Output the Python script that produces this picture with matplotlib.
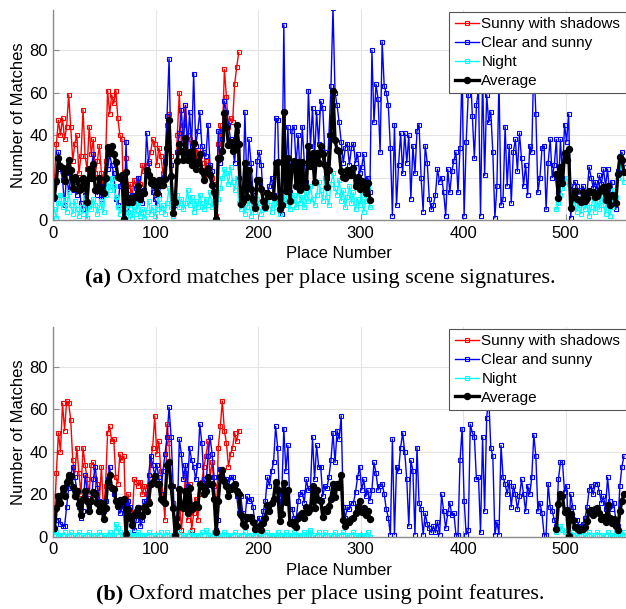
import numpy as np
import matplotlib
matplotlib.use("Agg")
import matplotlib.pyplot as plt

plt.rcParams["font.family"] = ["Liberation Sans", "DejaVu Sans"]

# Place numbers sampled along the route (every second place)
PLACES = np.arange(1, 558, 2)
NIGHT_TAIL_FIRST_PLACE = 491

# ---------------- (a) scene signatures ----------------
SUNNY_SHADOWS_A = [
    18, 36, 47, 40, 48, 38, 44, 59, 44, 28,
    36, 40, 22, 30, 52, 30, 24, 44, 31, 38,
    22, 28, 35, 22, 18, 28, 61, 50, 59, 55,
    61, 48, 40, 38, 1, 29, 14, 17, 12, 19,
    15, 20, 17, 26, 23, 26, 28, 32, 38, 36,
    26, 34, 30, 22, 27, 45, 50, 30, 6, 10,
    40, 60, 35, 45, 54, 40, 38, 32, 36, 28,
    33, 30, 27, 20, 28, 22, 25, 20, 17, 2,
    36, 45, 40, 71, 58, 44, 48, 46, 64, 72,
    79,
]
CLEAR_SUNNY_A = [
    10, 18, 32, 24, 19, 7, 22, 13, 20, 14,
    16, 12, 18, 8, 5, 12, 1, 20, 24, 31,
    14, 12, 18, 10, 16, 20, 24, 31, 26, 22,
    10, 7, 16, 20, 0, 37, 4, 10, 12, 8,
    15, 20, 10, 8, 14, 41, 27, 18, 13, 10,
    7, 12, 16, 20, 28, 49, 76, 26, 2, 7,
    32, 41, 52, 35, 54, 31, 51, 35, 69, 35,
    42, 51, 35, 32, 30, 45, 26, 23, 13, 0,
    42, 27, 38, 56, 51, 45, 38, 34, 27, 42,
    20, 10, 7, 51, 16, 38, 27, 12, 7, 28,
    32, 26, 9, 7, 13, 16, 20, 12, 48, 47,
    7, 3, 92, 20, 44, 13, 42, 44, 26, 40,
    20, 44, 27, 18, 61, 35, 53, 29, 51, 36,
    56, 53, 32, 20, 40, 63, 100, 60, 54, 46,
    37, 27, 34, 36, 26, 34, 36, 27, 31, 22,
    25, 31, 16, 20, 13, 80, 46, 64, 57, 32,
    84, 63, 60, 54, 34, 2, 45, 7, 26, 41,
    22, 41, 27, 40, 10, 35, 22, 42, 45, 20,
    4, 35, 27, 10, 5, 7, 12, 24, 18, 20,
    13, 2, 24, 13, 23, 28, 32, 13, 34, 70,
    2, 37, 59, 72, 49, 29, 54, 62, 2, 68,
    21, 59, 46, 51, 32, 1, 16, 66, 7, 10,
    44, 16, 35, 8, 32, 38, 23, 41, 29, 16,
    26, 12, 35, 32, 75, 50, 13, 20, 34, 35,
    5, 27, 38, 20, 26, 38, 13, 38, 20, 45,
    37, 50, 1, 16, 18, 16, 12, 14, 16, 13,
    13, 25, 20, 15, 18, 14, 21, 17, 24, 16,
    24, 12, 18, 9, 5, 23, 29, 32, 27,
]
NIGHT_A_HEAD = [
    5, 1, 8, 12, 6, 10, 4, 13, 7, 3,
    9, 5, 2, 6, 3, 11, 1, 8, 5, 10,
    7, 3, 6, 9, 4, 12, 18, 14, 20, 16,
    11, 6, 3, 5, 0, 2, 7, 4, 1, 6,
    3, 8, 2, 5, 1, 4, 9, 3, 6, 2,
    5, 10, 4, 7, 3, 8, 15, 6, 2, 9,
    12, 6, 10, 5, 8, 14, 7, 11, 4, 9,
    6, 12, 8, 5, 10, 7, 13, 6, 9, 0,
    10, 15, 20, 24, 22, 17, 25, 18, 14, 20,
    8, 5, 11, 3, 6, 9, 2, 7, 4, 10,
    6, 3, 9, 5, 12, 7, 4, 10, 6, 8,
    3, 11, 10, 7, 14, 5, 9, 12, 6, 15,
    8, 11, 6, 13, 9, 16, 10, 7, 12, 18,
    14, 9, 20, 11, 7, 17, 22, 15, 12, 19,
    9, 14, 6, 11, 16, 8, 13, 5, 10, 7,
    12, 4, 9, 15, 6,
]
NIGHT_A_TAIL = [
    5, 8, 12, 15, 18, 20, 17, 10, 6, 9,
    4, 7, 3, 10, 5, 8, 2, 6, 11, 4,
    9, 5, 12, 7, 3, 8, 2, 6, 14, 11,
    20, 30, 25, 18,
]

# ---------------- (b) point features ----------------
SUNNY_SHADOWS_B = [
    8, 30, 49, 40, 63, 50, 64, 63, 55, 36,
    30, 42, 30, 20, 42, 34, 27, 20, 34, 35,
    27, 25, 17, 33, 12, 24, 49, 52, 45, 46,
    28, 25, 39, 36, 38, 2, 20, 11, 8, 27,
    26, 24, 26, 20, 24, 20, 17, 36, 42, 57,
    39, 45, 31, 20, 8, 53, 44, 24, 16, 2,
    5, 20, 3, 14, 30, 8, 25, 3, 11, 18,
    8, 20, 26, 33, 38, 45, 28, 35, 24, 3,
    42, 52, 64, 50, 44, 33, 39, 42, 49, 45,
    50,
]
CLEAR_SUNNY_B = [
    3, 8, 8, 6, 5, 5, 14, 23, 29, 33,
    28, 22, 14, 9, 12, 29, 22, 14, 17, 27,
    33, 23, 17, 14, 12, 17, 27, 33, 23, 20,
    17, 14, 11, 13, 15, 1, 17, 14, 8, 3,
    8, 14, 5, 8, 17, 16, 29, 38, 34, 29,
    34, 28, 20, 31, 39, 47, 61, 47, 24, 1,
    9, 46, 39, 27, 34, 24, 42, 36, 33, 27,
    34, 53, 44, 27, 24, 38, 47, 39, 28, 3,
    8, 32, 30, 27, 27, 24, 28, 28, 24, 19,
    11, 19, 11, 8, 19, 17, 18, 14, 5, 7,
    9, 6, 12, 17, 28, 24, 31, 35, 52, 42,
    14, 20, 51, 31, 43, 13, 13, 9, 8, 17,
    20, 21, 16, 27, 22, 23, 47, 27, 43, 33,
    33, 19, 24, 23, 28, 36, 49, 35, 50, 46,
    57, 14, 9, 14, 13, 16, 16, 21, 28, 33,
    22, 27, 19, 22, 17, 22, 35, 30, 22, 24,
    25, 20, 13, 9, 1, 46, 1, 33, 31, 42,
    49, 40, 27, 5, 36, 31, 1, 42, 16, 13,
    1, 11, 6, 4, 2, 5, 2, 7, 1, 20,
    12, 4, 11, 16, 10, 11, 1, 1, 36, 51,
    17, 1, 3, 53, 49, 47, 27, 28, 2, 47,
    12, 56, 66, 42, 38, 1, 7, 1, 43, 28,
    25, 20, 26, 14, 24, 20, 13, 19, 27, 20,
    12, 24, 20, 28, 48, 38, 12, 16, 11, 1,
    1, 25, 14, 12, 8, 5, 27, 35, 35, 21,
    24, 1, 20, 14, 8, 8, 5, 5, 6, 9,
    14, 22, 24, 20, 25, 25, 21, 16, 19, 13,
    28, 17, 13, 16, 8, 5, 24, 33, 38,
]
NIGHT_B_HEAD = [
    1, 2, 0, 1, 1, 2, 0, 1, 2, 1,
    0, 1, 2, 1, 0, 1, 1, 2, 0, 1,
    1, 0, 2, 1, 1, 0, 1, 2, 1, 1,
    6, 4, 2, 1, 0, 1, 2, 1, 0, 1,
    1, 2, 0, 1, 1, 0, 2, 1, 1, 0,
    1, 1, 2, 0, 1, 2, 1, 0, 1, 0,
    1, 2, 1, 0, 1, 1, 2, 0, 1, 1,
    0, 1, 2, 1, 3, 1, 0, 1, 2, 0,
    1, 0, 1, 2, 1, 1, 0, 1, 2, 1,
    0, 1, 1, 2, 0, 1, 1, 0, 2, 1,
    1, 0, 1, 1, 2, 0, 1, 1, 0, 2,
    1, 1, 0, 2, 1, 0, 1, 2, 1, 1,
    0, 1, 2, 1, 1, 3, 1, 0, 1, 2,
    1, 0, 2, 1, 1, 0, 1, 2, 0, 1,
    1, 2, 1, 0, 1, 1, 2, 1, 0, 1,
    1, 0, 1, 2, 0,
]
NIGHT_B_TAIL = [
    2, 4, 5, 3, 2, 1, 0, 1, 2, 1,
    0, 1, 2, 1, 0, 1, 2, 1, 0, 1,
    2, 1, 1, 0, 1, 2, 1, 0, 1, 2,
    1, 0, 1, 2,
]

LEGEND_LABELS = ["Sunny with shadows", "Clear and sunny", "Night", "Average"]
X_TICKS = [0, 100, 200, 300, 400, 500]
Y_TICKS = [0, 20, 40, 60, 80]

W, H = 626, 609


def padded(values, start_place):
    """Place a partial series on the full place grid, NaN elsewhere."""
    out = np.full(PLACES.shape, np.nan)
    i0 = int(np.searchsorted(PLACES, start_place))
    out[i0:i0 + len(values)] = values
    return out


def draw_panel(ax, sunny_shadows, clear_sunny, night_head, night_tail):
    red = padded(sunny_shadows, PLACES[0])
    blue = padded(clear_sunny, PLACES[0])
    night = padded(night_head, PLACES[0])
    tail = padded(night_tail, NIGHT_TAIL_FIRST_PLACE)
    night = np.where(np.isnan(night), tail, night)

    # average over the conditions recorded at each place
    stack = np.vstack([red, blue, night])
    avg = np.nanmean(stack, axis=0)
    avg[np.isnan(night)] = np.nan

    thin = dict(lw=1.0, marker="s", ms=3.4, mew=0.8, mfc="none")
    ax.plot(PLACES, red, color="#ff0000", label=LEGEND_LABELS[0], **thin)
    ax.plot(PLACES, blue, color="#0000ff", label=LEGEND_LABELS[1], **thin)
    ax.plot(PLACES, night, color="#00ffff", label=LEGEND_LABELS[2], **thin)
    ax.plot(PLACES, avg, color="black", lw=2.4, marker="o", ms=4.3,
            label=LEGEND_LABELS[3])

    ax.set_xlim(0, 558.5)
    ax.set_ylim(0, 99)
    ax.set_xticks(X_TICKS)
    ax.set_yticks(Y_TICKS)
    ax.grid(True, color="#e4e4e4", lw=0.8)
    ax.set_axisbelow(True)
    for side in ("top", "right"):
        ax.spines[side].set_visible(False)
    for side in ("left", "bottom"):
        ax.spines[side].set_color("#8c8c8c")
        ax.spines[side].set_linewidth(1.0)
    ax.tick_params(direction="in", length=4, color="#8c8c8c",
                   labelsize=12, pad=4)
    ax.set_xlabel("Place Number", fontsize=12, labelpad=4)
    ax.set_ylabel("Number of Matches", fontsize=12, labelpad=2)

    leg = ax.legend(loc="upper right", bbox_to_anchor=(1.0, 0.99),
                    borderaxespad=0.0, fontsize=11, handlelength=1.6,
                    handletextpad=0.15, labelspacing=0.32, borderpad=0.35,
                    fancybox=False, framealpha=1.0, edgecolor="#555555")
    leg.get_frame().set_linewidth(0.8)


fig = plt.figure(figsize=(W / 100, H / 100), dpi=100)
left = 53.3 / W
width = (625.5 - 53.3) / W
ax_a = fig.add_axes([left, 1 - 220 / H, width, 210 / H])
ax_b = fig.add_axes([left, 1 - 536.7 / H, width, 210 / H])

draw_panel(ax_a, SUNNY_SHADOWS_A, CLEAR_SUNNY_A, NIGHT_A_HEAD, NIGHT_A_TAIL)
draw_panel(ax_b, SUNNY_SHADOWS_B, CLEAR_SUNNY_B, NIGHT_B_HEAD, NIGHT_B_TAIL)

captions = [
    (278, "(a)", "Oxford matches per place using scene signatures."),
    (594, "(b)", "Oxford matches per place using point features."),
]
serif = ["Liberation Serif", "DejaVu Serif"]
parts = []
for y_px, tag, text in captions:
    t1 = fig.text(0, 1 - y_px / H, tag, fontsize=16, fontweight="bold",
                  family=serif, va="center", ha="left")
    t2 = fig.text(0, 1 - y_px / H, text, fontsize=16, family=serif,
                  va="center", ha="left")
    parts.append((t1, t2))

fig.canvas.draw()
renderer = fig.canvas.get_renderer()
center_px = 320
gap_px = 6
for t1, t2 in parts:
    w1 = t1.get_window_extent(renderer).width
    w2 = t2.get_window_extent(renderer).width
    x0 = center_px - (w1 + gap_px + w2) / 2
    t1.set_x(x0 / W)
    t2.set_x((x0 + w1 + gap_px) / W)

fig.savefig("out.png", dpi=100)
